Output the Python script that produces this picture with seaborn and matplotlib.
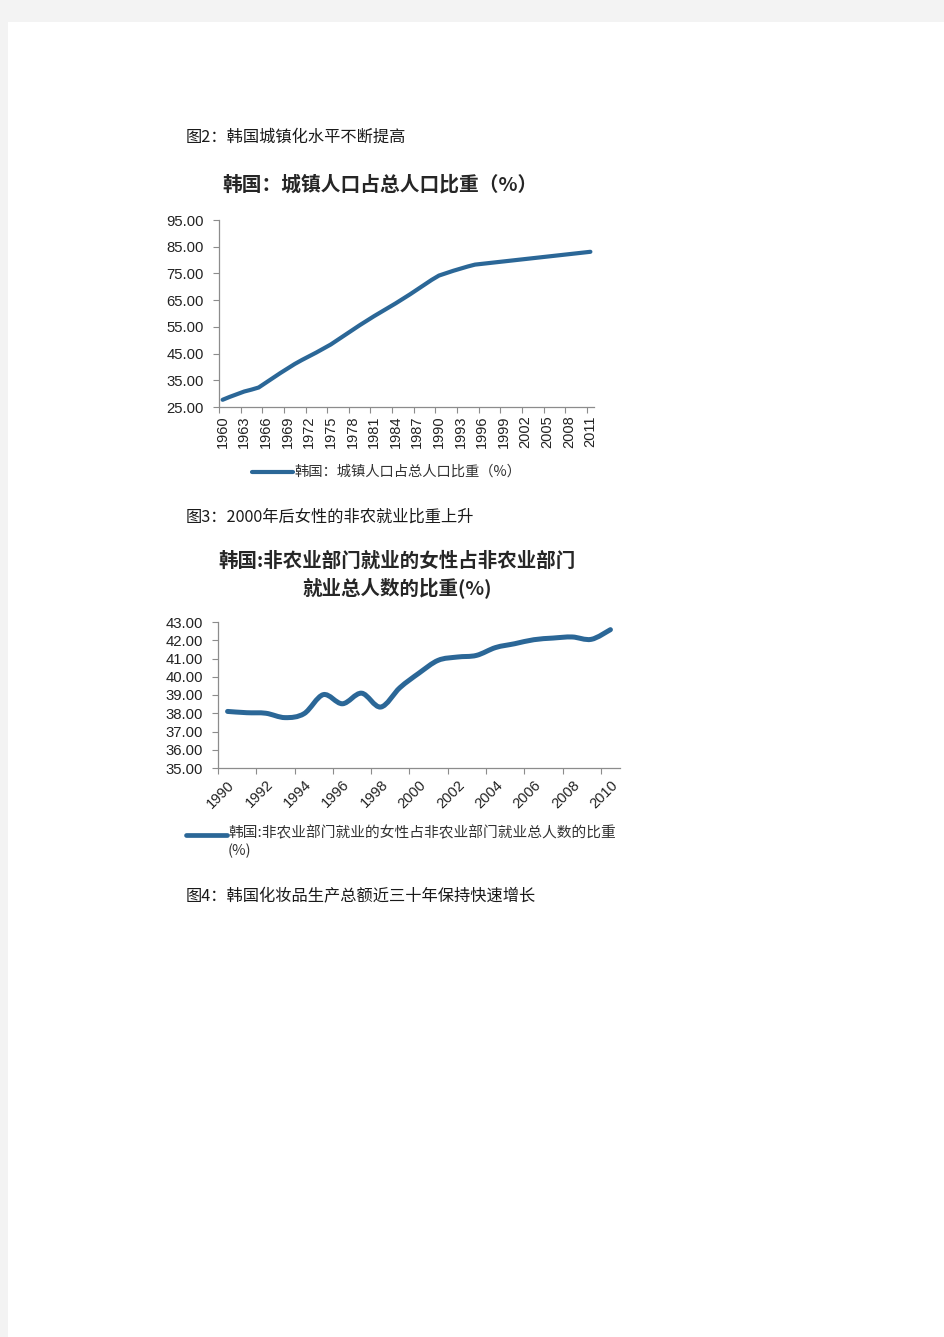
import numpy as np
import pandas as pd
import matplotlib
matplotlib.use('Agg')
import matplotlib.pyplot as plt
from matplotlib.path import Path
from matplotlib.patches import PathPatch
from matplotlib.lines import Line2D
from matplotlib.ticker import FixedLocator, FormatStrFormatter
import seaborn as sns

# Chart 1: urban population share, Korea (%)
urban_years = list(range(1960, 2012))
urban_share = [27.7, 28.8, 29.8, 30.8, 31.5, 32.3, 34.1, 35.9, 37.7, 39.4,
               41.1, 42.6, 44.0, 45.4, 46.9, 48.4, 50.2, 52.0, 53.8, 55.6,
               57.3, 59.0, 60.6, 62.2, 63.8, 65.5, 67.2, 69.0, 70.8, 72.6,
               74.2, 75.1, 76.0, 76.8, 77.6, 78.3, 78.6, 78.9, 79.2, 79.5,
               79.8, 80.1, 80.4, 80.7, 81.0, 81.3, 81.6, 81.9, 82.2, 82.5,
               82.8, 83.1]

# Chart 2: women share of non-agricultural employment (%)
women_years = list(range(1990, 2011))
women_share = [38.10, 38.03, 38.00, 37.76, 37.98, 39.02, 38.52, 39.10, 38.34,
               39.40, 40.20, 40.90, 41.08, 41.17, 41.60, 41.81, 42.03, 42.12,
               42.18, 42.05, 42.58]

urban_yticks = [25, 35, 45, 55, 65, 75, 85, 95]
women_yticks = [35, 36, 37, 38, 39, 40, 41, 42, 43]

captions = ['图2：韩国城镇化水平不断提高',
            '图3：2000年后女性的非农就业比重上升',
            '图4：韩国化妆品生产总额近三十年保持快速增长']
title1 = '韩国：城镇人口占总人口比重（%）'
title2 = '韩国:非农业部门就业的女性占非农业部门\n就业总人数的比重(%)'
label1 = '韩国：城镇人口占总人口比重（%）'
label2 = '韩国:非农业部门就业的女性占非农业部门就业总人数的比重\n(%)'

LINE_COLOR = '#2b6797'
AXIS_COLOR = '#8c8c8c'
CJK = ['Noto Sans CJK SC', 'DejaVu Sans']
W, H = 945, 1337

sns.set_theme(style='white')
plt.rcParams['font.family'] = ['Liberation Sans', 'Noto Sans CJK SC', 'DejaVu Sans']


def px_rect(left, top, right, bottom):
    return [left / W, 1 - bottom / H, (right - left) / W, (bottom - top) / H]


def style_axis(ax):
    ax.set_facecolor('none')
    for side in ('top', 'right'):
        ax.spines[side].set_visible(False)
    for side in ('left', 'bottom'):
        ax.spines[side].set_color(AXIS_COLOR)
        ax.spines[side].set_linewidth(0.9)
    ax.tick_params(axis='y', which='major', length=4, width=0.8, color=AXIS_COLOR,
                   labelsize=10.7, labelcolor='#222222', pad=7, direction='out', left=True)
    ax.tick_params(axis='x', which='major', length=0, labelsize=10.5, labelcolor='#222222')
    ax.tick_params(axis='x', which='minor', length=4, width=0.8, color=AXIS_COLOR,
                   direction='out', bottom=True)
    ax.set_xlabel('')
    ax.set_ylabel('')
    ax.grid(False)


def smooth_path(xs, ys):
    # Excel-style smoothed line: cubic Bezier through each point
    x = np.asarray(xs, float)
    y = np.asarray(ys, float)
    n = len(x)
    verts = [(x[0], y[0])]
    codes = [Path.MOVETO]
    for i in range(n - 1):
        p0 = i - 1 if i > 0 else i
        p3 = i + 2 if i + 2 < n else i + 1
        c1 = (x[i] + (x[i + 1] - x[p0]) / 6, y[i] + (y[i + 1] - y[p0]) / 6)
        c2 = (x[i + 1] - (x[p3] - x[i]) / 6, y[i + 1] - (y[p3] - y[i]) / 6)
        verts += [c1, c2, (x[i + 1], y[i + 1])]
        codes += [Path.CURVE4] * 3
    return Path(verts, codes)


fig = plt.figure(figsize=(W / 100, H / 100), dpi=100)
fig.patch.set_facecolor('#f3f3f3')
fig.patches.append(plt.Rectangle((8 / W, 0), 1, 1 - 22 / H, transform=fig.transFigure,
                                 facecolor='white', edgecolor='none', zorder=-10))

# captions in the document body
for cap, yy in zip(captions, [137, 517, 897]):
    fig.text(186 / W, 1 - yy / H, cap, family=CJK, fontsize=11.7, color='#1a1a1a',
             ha='left', va='center')

# ---- chart 1 ----
df1 = pd.DataFrame({'year': urban_years, 'share': urban_share})
ax1 = fig.add_axes(px_rect(219, 220, 594, 407))
sns.lineplot(data=df1, x='year', y='share', ax=ax1, color=LINE_COLOR, linewidth=3.0,
             solid_capstyle='round', solid_joinstyle='round')
ax1.set_xlim(urban_years[0] - 0.5, urban_years[-1] + 0.5)
ax1.set_ylim(urban_yticks[0], urban_yticks[-1])
ax1.set_yticks(urban_yticks)
ax1.yaxis.set_major_formatter(FormatStrFormatter('%.2f'))
ax1.set_xticks(urban_years[::3])
ax1.set_xticklabels([str(v) for v in urban_years[::3]], rotation=90)
ax1.xaxis.set_minor_locator(FixedLocator([v - 0.5 for v in urban_years[::3]]))
style_axis(ax1)
ax1.tick_params(axis='x', which='major', pad=6)
fig.text(380 / W, 1 - 185 / H, title1, family=CJK, fontsize=14.2, fontweight='bold',
         color='#262626', ha='center', va='center')
fig.add_artist(Line2D([252 / W, 293 / W], [1 - 472 / H] * 2, transform=fig.transFigure,
                      color=LINE_COLOR, linewidth=3.0, solid_capstyle='round'))
fig.text(294 / W, 1 - 472 / H, label1, family=CJK, fontsize=10.3, color='#333333',
         ha='left', va='center')

# ---- chart 2 ----
ax2 = fig.add_axes(px_rect(218, 622, 620, 768))
ax2.add_patch(PathPatch(smooth_path(women_years, women_share), facecolor='none',
                        edgecolor=LINE_COLOR, linewidth=3.6, capstyle='round',
                        joinstyle='round'))
ax2.set_xlim(women_years[0] - 0.5, women_years[-1] + 0.5)
ax2.set_ylim(women_yticks[0], women_yticks[-1])
ax2.set_yticks(women_yticks)
ax2.yaxis.set_major_formatter(FormatStrFormatter('%.2f'))
ax2.set_xticks(women_years[::2])
ax2.set_xticklabels([str(v) for v in women_years[::2]], rotation=45, ha='right',
                    rotation_mode='anchor')
ax2.xaxis.set_minor_locator(FixedLocator([v - 0.5 for v in women_years[::2]]))
style_axis(ax2)
ax2.tick_params(axis='x', which='major', pad=7)
fig.text(397 / W, 1 - 575 / H, title2, family=CJK, fontsize=14, fontweight='bold',
         color='#262626', ha='center', va='center', linespacing=1.35)
fig.add_artist(Line2D([186 / W, 227 / W], [1 - 835 / H] * 2, transform=fig.transFigure,
                      color=LINE_COLOR, linewidth=3.4, solid_capstyle='round'))
fig.text(228 / W, 1 - 826 / H, label2, family=CJK, fontsize=10.6, color='#333333',
         ha='left', va='top', linespacing=1.3)

fig.savefig('out.png', dpi=100, facecolor=fig.get_facecolor())
